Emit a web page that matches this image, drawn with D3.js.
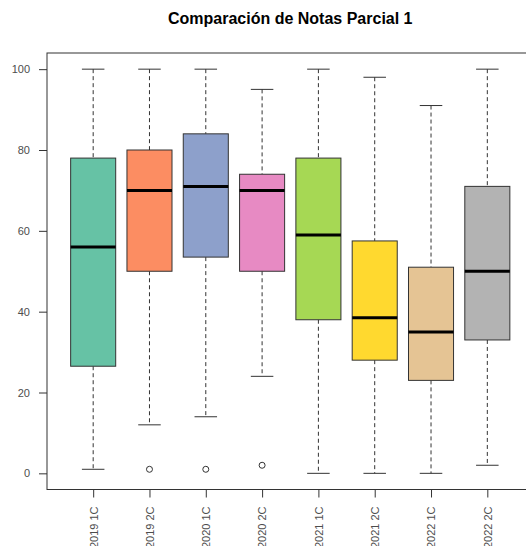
<!DOCTYPE html>
<html>
<head>
<meta charset="utf-8">
<script src="https://cdn.jsdelivr.net/npm/d3@7"></script>
<style>
  html, body { margin: 0; padding: 0; background: #fff; }
  svg { display: block; }
</style>
</head>
<body>
<svg id="chart" width="526" height="546"></svg>
<script>
// Grade distributions per course/semester (five-number summaries + outliers)
const groups   = ["2019 1C", "2019 2C", "2020 1C", "2020 2C", "2021 1C", "2021 2C", "2022 1C", "2022 2C"];
const lowers   = [1, 12, 14, 24, 0, 0, 0, 2];
const q1s      = [26.5, 50, 53.5, 50, 38, 28, 23, 33];
const medians  = [56, 70, 71, 70, 59, 38.5, 35, 50];
const q3s      = [78, 80, 84, 74, 78, 57.5, 51, 71];
const uppers   = [100, 100, 100, 95, 100, 98, 91, 100];
const outliers = [[], [1], [1], [2], [], [], [], []];
const colors   = ["#66C2A5", "#FC8D62", "#8DA0CB", "#E78AC3", "#A6D854", "#FFD92F", "#E5C494", "#B3B3B3"];
const yTicks   = [0, 20, 40, 60, 80, 100];
const title    = "Comparación de Notas Parcial 1";

const svg = d3.select("#chart");
const plotL = 47, plotR = 533.5, plotT = 53, plotB = 489.5;
const axisCol = "#333333", textCol = "#4d4d4d";
const font = "'Liberation Sans', Arial, sans-serif";

const n = groups.length;
const pad = n * 0.04;
const x = d3.scaleLinear().domain([0.5 - pad, n + 0.5 + pad]).range([plotL, plotR]);
const y = d3.scaleLinear().domain([-4, 104]).range([plotB, plotT]);

const boxW = x(1.4) - x(1);
const capW = x(1.2) - x(1);

const rows = groups.map((g, i) => ({
  g, i: i + 1, lo: lowers[i], q1: q1s[i], med: medians[i], q3: q3s[i], hi: uppers[i],
  out: outliers[i], col: colors[i]
}));

const plot = svg.append("g");

rows.forEach(d => {
  const cx = x(d.i);
  const g = plot.append("g");
  // whiskers
  g.append("line").attr("x1", cx).attr("x2", cx).attr("y1", y(d.hi)).attr("y2", y(d.q3))
    .attr("stroke", axisCol).attr("stroke-width", 1).attr("stroke-dasharray", "4,3");
  g.append("line").attr("x1", cx).attr("x2", cx).attr("y1", y(d.q1)).attr("y2", y(d.lo))
    .attr("stroke", axisCol).attr("stroke-width", 1).attr("stroke-dasharray", "4,3");
  // staples
  [d.hi, d.lo].forEach(v => {
    g.append("line").attr("x1", cx - capW).attr("x2", cx + capW).attr("y1", y(v)).attr("y2", y(v))
      .attr("stroke", axisCol).attr("stroke-width", 1);
  });
  // box
  g.append("rect").attr("x", cx - boxW).attr("width", 2 * boxW)
    .attr("y", y(d.q3)).attr("height", y(d.q1) - y(d.q3))
    .attr("fill", d.col).attr("stroke", axisCol).attr("stroke-width", 1);
  // median
  g.append("line").attr("x1", cx - boxW).attr("x2", cx + boxW).attr("y1", y(d.med)).attr("y2", y(d.med))
    .attr("stroke", "#000").attr("stroke-width", 3);
  // outliers
  d.out.forEach(v => {
    g.append("circle").attr("cx", cx).attr("cy", y(v)).attr("r", 3)
      .attr("fill", "none").attr("stroke", axisCol).attr("stroke-width", 1);
  });
});

// frame
svg.append("rect").attr("x", plotL).attr("y", plotT).attr("width", plotR - plotL).attr("height", plotB - plotT)
  .attr("fill", "none").attr("stroke", axisCol).attr("stroke-width", 1);

// y axis
const yAxis = svg.append("g").attr("transform", `translate(${plotL},0)`)
  .call(d3.axisLeft(y).tickValues(yTicks).tickSize(8).tickPadding(9));
yAxis.select(".domain").remove();
yAxis.selectAll(".tick line").attr("stroke", axisCol);
yAxis.selectAll(".tick text").attr("fill", textCol).style("font-family", font).style("font-size", "11px");

// x axis
const xAxis = svg.append("g").attr("transform", `translate(0,${plotB})`)
  .call(d3.axisBottom(x).tickValues(d3.range(1, n + 1)).tickFormat(i => groups[i - 1]).tickSize(8));
xAxis.select(".domain").remove();
xAxis.selectAll(".tick line").attr("stroke", axisCol);
xAxis.selectAll(".tick text")
  .attr("fill", textCol).style("font-family", font).style("font-size", "11px")
  .attr("transform", "rotate(-90)")
  .attr("text-anchor", "end")
  .attr("x", -17).attr("y", 0).attr("dy", "0.35em");

// title
svg.append("text").attr("x", (plotL + plotR) / 2).attr("y", 24)
  .attr("text-anchor", "middle").style("font-family", font).style("font-weight", "bold")
  .style("font-size", "16px").attr("fill", "#000").text(title);
</script>
</body>
</html>
